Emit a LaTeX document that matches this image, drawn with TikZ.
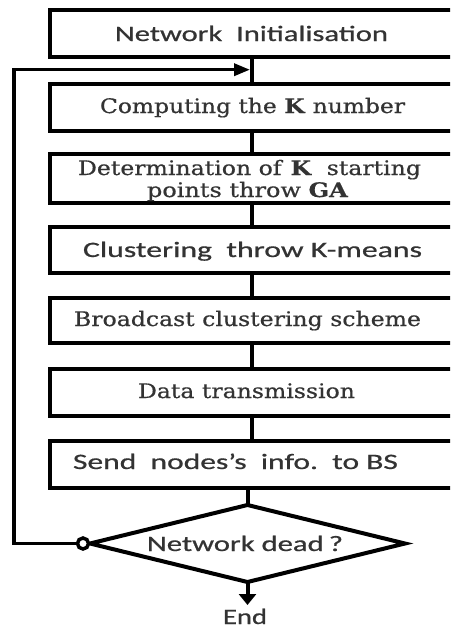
\documentclass[tikz,border=0pt]{standalone}
\usepackage{fontspec}
\setmainfont{DejaVu Serif}[FakeBold=0.6]
\setsansfont{Carlito}[FakeBold=0.6]
\usetikzlibrary{shapes.geometric,arrows.meta,calc}
\newcommand\fitto[2]{\resizebox{#1pt}{\height}{#2}}
\begin{document}
\begin{tikzpicture}[x=1pt,y=-1pt,
  boxnode/.style={draw, line width=4pt, minimum width=410pt, inner sep=0pt, outer sep=0pt},
  sertxt/.style={anchor=base, inner sep=0pt, text=black!80, font=\fontsize{20}{20}\selectfont},
  santxt/.style={anchor=base, inner sep=0pt, text=black!80, font=\sffamily\fontsize{22}{22}\selectfont},
  conn/.style={line width=4pt}]
\useasboundingbox (0,0) rectangle (450,629);
\fill[white] (0,0) rectangle (450,629);
\clip (0,0) rectangle (450,629);
% boxes
\node[boxnode, minimum height=46.5pt] (b1) at (255,33.5) {};
\node[boxnode, minimum height=47pt] (b2) at (255,107.5) {};
\node[boxnode, minimum height=48.5pt] (b3) at (255,178.25) {};
\node[boxnode, minimum height=46pt] (b4) at (255,250) {};
\node[boxnode, minimum height=45pt] (b5) at (255,320) {};
\node[boxnode, minimum height=47pt] (b6) at (255,392.5) {};
\node[boxnode, minimum height=47pt] (b7) at (255,464.5) {};
\node[diamond, draw, line width=4pt, minimum width=315pt, minimum height=77pt, inner sep=0pt, outer sep=0pt] (d) at (247.5,543.5) {};
% texts
\node[santxt] (t1) at (251.5,41) {\fitto{273}{Network\ \ Initialisation}};
\node[sertxt] (t2) at (252.5,113) {\fitto{305}{Computing the \textbf{K} number}};
\node[sertxt] (t3a) at (249.5,175) {\fitto{343}{Determination of \textbf{K}\ \ starting}};
\node[sertxt] (t3b) at (247.5,197) {\fitto{201}{points throw \textbf{GA}}};
\node[santxt] (t4) at (252.5,257) {\fitto{339}{Clustering\ \ throw K-means}};
\node[sertxt] (t5) at (247.5,326) {\fitto{347}{Broadcast clustering scheme}};
\node[sertxt] (t6) at (246.5,398) {\fitto{217}{Data transmission}};
\node[santxt] (t7) at (235.5,469) {\fitto{325}{Send\ \ nodes's\ \ info.\ \ to BS}};
\node[santxt] (td) at (245,551) {\fitto{196}{Network dead\,?}};
\node[santxt] (tend) at (245,624) {\fitto{44}{End}};
% connectors
\coordinate (j) at (252,69.7);
\coordinate (L) at (14,69.7);
\draw[conn] (b1.south -| j) -- (b2.north -| j);
\draw[conn] (b2.south -| j) -- (b3.north -| j);
\draw[conn] (b3.south -| j) -- (b4.north -| j);
\draw[conn] (b4.south -| j) -- (b5.north -| j);
\draw[conn] (b5.south -| j) -- (b6.north -| j);
\draw[conn] (b6.south -| j) -- (b7.north -| j);
\draw[conn] (b7.south -| d.north) -- (d.north);
\node[circle, draw, line width=3.5pt, fill=white, minimum size=11pt, inner sep=0pt, outer sep=0pt] (c) at (83,543.5) {};
\draw[conn, line width=3.5pt, shorten >=2pt, -{Triangle[length=16pt,width=12pt]}] (c.west) -| (L) -- (j);
\coordinate (e) at (247.5,605);
\draw[conn, -{Triangle[length=11pt,width=17pt]}] (d.south) -- (e);
\end{tikzpicture}
\end{document}
